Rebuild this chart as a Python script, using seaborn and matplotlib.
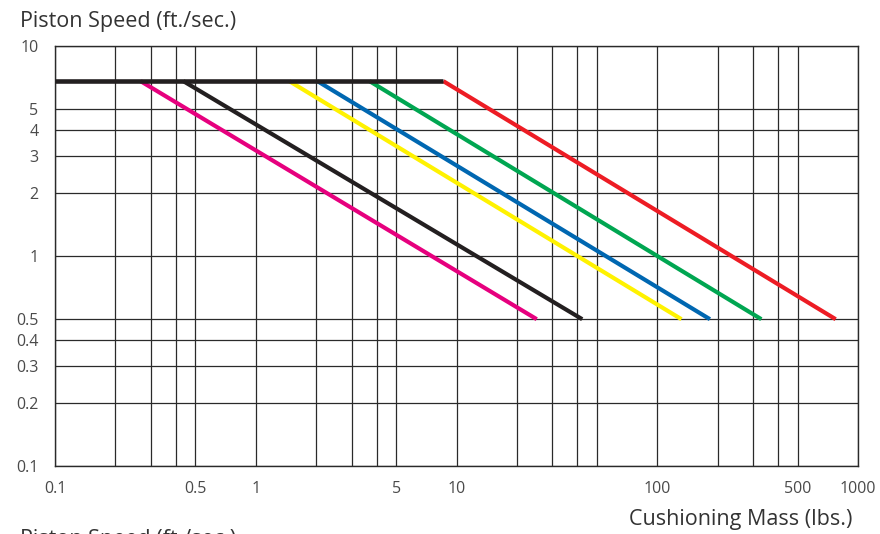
import numpy as np
import pandas as pd
import matplotlib
matplotlib.use("Agg")
import matplotlib.pyplot as plt
import seaborn as sns

# ---- data ----
curves = ["A", "B", "C", "D", "E", "F"]
curve_colors = ["#E6007E", "#231F20", "#FFF200", "#0067B1", "#00A651", "#ED1C24"]
start_mass = [0.267, 0.436, 1.47, 2.03, 3.69, 8.6]      # lbs, where each curve leaves the cap
end_mass = [25.1, 42.3, 132, 183, 330, 774]              # lbs, at the lowest speed
max_speed = 6.8                                         # ft/sec cap
min_speed = 0.5                                         # ft/sec
cap_mass = [0.1, 8.6]

x_grid = [0.1, 0.2, 0.3, 0.4, 0.5, 1, 2, 3, 4, 5, 10, 20, 30, 40, 50,
          100, 200, 300, 400, 500, 1000]
x_labeled = [0.1, 0.5, 1, 5, 10, 100, 500, 1000]
y_grid = [0.1, 0.2, 0.3, 0.4, 0.5, 1, 2, 3, 4, 5, 10]

rows = []
for c, m0, m1 in zip(curves, start_mass, end_mass):
    rows.append({"curve": c, "order": 0, "mass": m0, "speed": max_speed})
    rows.append({"curve": c, "order": 1, "mass": m1, "speed": min_speed})
df = pd.DataFrame(rows)
cap = pd.DataFrame({"mass": cap_mass, "speed": [max_speed] * len(cap_mass)})

sns.set_style("white")
plt.rcParams["font.family"] = ["Open Sans", "DejaVu Sans"]

fig = plt.figure(figsize=(8.8, 5.34), dpi=100)
ax = fig.add_axes([55 / 880, 1 - 466 / 534, (858 - 55) / 880, (466 - 46) / 534])

ax.set_xscale("log")
ax.set_yscale("log")

sns.lineplot(data=df, x="mass", y="speed", hue="curve", units="curve",
             estimator=None, sort=False, palette=dict(zip(curves, curve_colors)),
             linewidth=3.0, legend=False, ax=ax, solid_capstyle="butt", zorder=3)
sns.lineplot(data=cap, x="mass", y="speed", color="#231F20", linewidth=3.3,
             estimator=None, sort=False, legend=False, ax=ax,
             solid_capstyle="butt", zorder=4)

ax.set_xlim(0.1, 1000)
ax.set_ylim(0.1, 10)

ax.xaxis.set_major_locator(matplotlib.ticker.FixedLocator(x_grid))
ax.yaxis.set_major_locator(matplotlib.ticker.FixedLocator(y_grid))
ax.xaxis.set_minor_locator(matplotlib.ticker.NullLocator())
ax.yaxis.set_minor_locator(matplotlib.ticker.NullLocator())

def fmt(v):
    return ("%g" % v)

ax.set_xticklabels([fmt(v) if v in x_labeled else "" for v in x_grid])
ax.set_yticklabels([fmt(v) for v in y_grid])
ax.tick_params(axis="both", length=0, labelsize=11.5, colors="#4a4a4a")
ax.tick_params(axis="x", pad=10.5)
ax.tick_params(axis="y", pad=12)

ax.grid(True, which="major", color="#2a2a2a", linewidth=0.9)
for s in ax.spines.values():
    s.set_color("#2a2a2a")
    s.set_linewidth(1.0)
ax.set_xlabel("")
ax.set_ylabel("")

fig.text(20 / 880, 1 - 22 / 534, "Piston Speed (ft./sec.)", fontsize=15.5,
         color="#333333", va="center", ha="left")
fig.text(852 / 880, 1 - 519 / 534, "Cushioning Mass (lbs.)", fontsize=15.5,
         color="#333333", va="center", ha="right")
fig.text(20 / 880, 1 - 529 / 534, "Piston Speed (ft./sec.)", fontsize=15.5,
         color="#333333", va="top", ha="left")

fig.savefig("out.png", dpi=100)
